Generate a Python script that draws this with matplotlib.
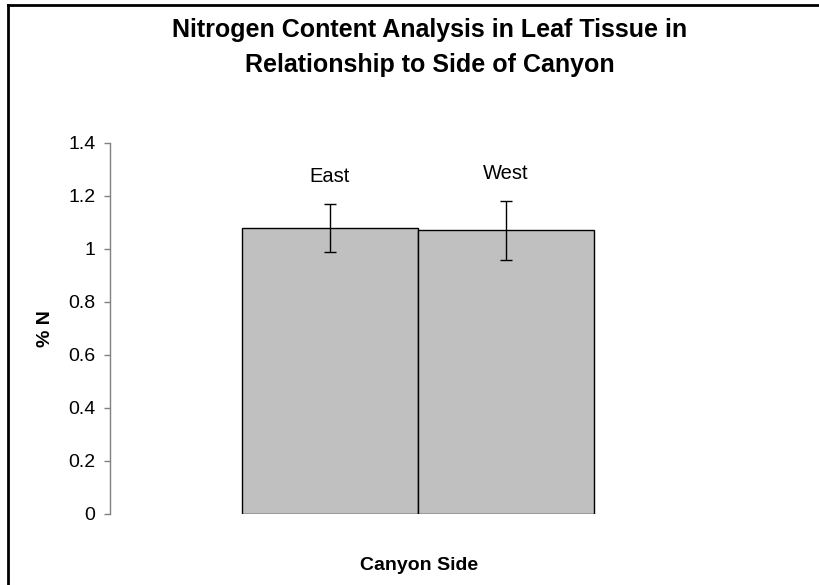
import matplotlib
matplotlib.use("Agg")
import matplotlib.pyplot as plt
from matplotlib.lines import Line2D

plt.rcParams["font.family"] = ["Liberation Sans", "DejaVu Sans"]

sides = ["East", "West"]
pct_n = [1.08, 1.07]
err = [0.09, 0.11]

fig = plt.figure(figsize=(8.2, 5.85), dpi=100)
ax = fig.add_axes([0.134, 0.1214, 0.751, 0.6342])

# one category, two series side by side (Excel style)
x = [-0.5, 0.5]
ax.bar(x, pct_n, width=1.0, color="#c0c0c0", edgecolor="black", linewidth=1.0)
ax.errorbar(x, pct_n, yerr=err, fmt="none", ecolor="black", elinewidth=1.0,
            capsize=4.5, capthick=1.0)
for xi, yi, e, s in zip(x, pct_n, err, sides):
    ax.annotate(s, (xi, yi + e), xytext=(0, 16), textcoords="offset points",
                ha="center", va="baseline", fontsize=14.5)

ax.set_xlim(-1.75, 1.75)
ax.set_ylim(0, 1.4)
ax.set_yticks([0, 0.2, 0.4, 0.6, 0.8, 1.0, 1.2, 1.4])
ax.set_yticklabels(["0", "0.2", "0.4", "0.6", "0.8", "1", "1.2", "1.4"])
ax.tick_params(axis="y", labelsize=14, length=4, width=1, color="#808080", pad=6.5)
ax.set_xticks([])
for s in ["top", "right", "bottom"]:
    ax.spines[s].set_visible(False)
ax.spines["left"].set_color("#808080")
ax.spines["left"].set_linewidth(1)

ax.set_ylabel("% N", fontsize=14, fontweight="bold", labelpad=10)
fig.text(0.511, 0.034, "Canyon Side", ha="center", va="center", fontsize=14,
         fontweight="bold")
fig.text(0.524, 0.937, "Nitrogen Content Analysis in Leaf Tissue in",
         ha="center", va="baseline", fontsize=18, fontweight="bold")
fig.text(0.524, 0.877, "Relationship to Side of Canyon",
         ha="center", va="baseline", fontsize=18, fontweight="bold")

# chart border (only left and top edges fall inside the image)
fig.add_artist(Line2D([8 / 820, 8 / 820], [0, 1 - 5 / 585], color="black",
                      linewidth=2, transform=fig.transFigure))
fig.add_artist(Line2D([8 / 820, 1], [1 - 5 / 585, 1 - 5 / 585], color="black",
                      linewidth=2, transform=fig.transFigure))

fig.savefig("out.png", dpi=100)
